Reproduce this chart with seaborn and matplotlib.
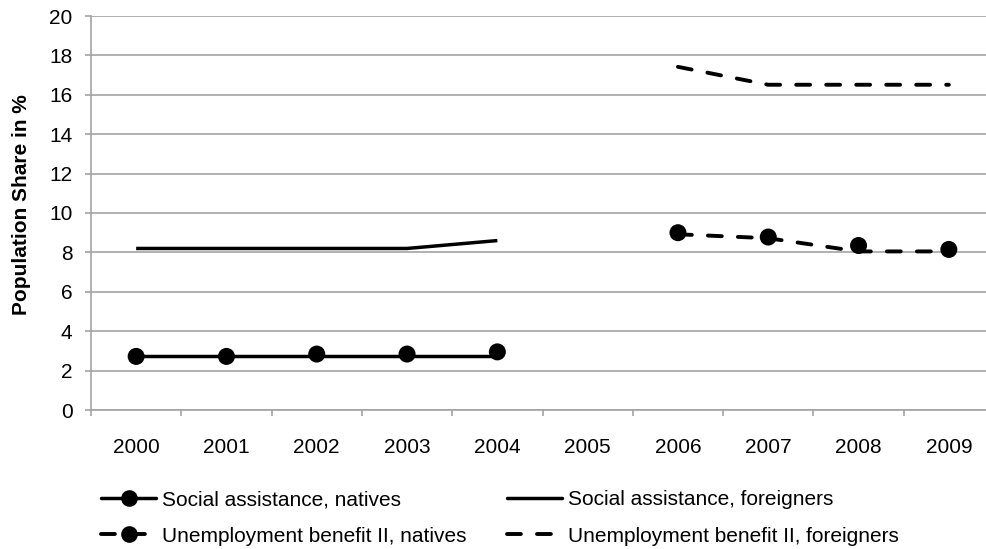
import matplotlib
matplotlib.use("Agg")
import matplotlib.pyplot as plt
from matplotlib.lines import Line2D
from matplotlib.ticker import FixedLocator
import seaborn as sns
import pandas as pd

# Categories
years = ["2000", "2001", "2002", "2003", "2004", "2005", "2006", "2007", "2008", "2009"]

# Social assistance (2000-2004)
sa_years = ["2000", "2001", "2002", "2003", "2004"]
sa_natives_line = [2.74, 2.74, 2.74, 2.74, 2.74]
sa_natives_points = [2.72, 2.72, 2.84, 2.84, 2.95]
sa_foreigners = [8.2, 8.2, 8.2, 8.2, 8.6]

# Unemployment benefit II (2006-2009)
ub_years = ["2006", "2007", "2008", "2009"]
ub_natives_line = [8.92, 8.72, 8.05, 8.05]
ub_natives_points = [9.0, 8.78, 8.35, 8.15]
ub_foreigners = [17.42, 16.51, 16.51, 16.51]

y_ticks = [0, 2, 4, 6, 8, 10, 12, 14, 16, 18, 20]

sns.set_theme(style="white")
plt.rcParams["font.family"] = ["Liberation Sans", "DejaVu Sans"]
plt.rcParams["lines.scale_dashes"] = False

GRID = "#a3a3a3"
INK = "#000000"
DASH = (0, (10.0, 11.6))


def pos(labels):
    return [years.index(v) for v in labels]


sa = pd.DataFrame({"x": pos(sa_years), "nat_line": sa_natives_line,
                   "nat_pts": sa_natives_points, "for": sa_foreigners})
ub = pd.DataFrame({"x": pos(ub_years), "nat_line": ub_natives_line,
                   "nat_pts": ub_natives_points, "for": ub_foreigners})

fig = plt.figure(figsize=(9.86, 5.49), dpi=100)
ax = fig.add_axes([91 / 986, 1 - 410 / 549, (994 - 91) / 986, (410 - 16) / 549])

# Social assistance
sns.lineplot(data=sa, x="x", y="nat_line", ax=ax, color=INK, lw=2.5,
             solid_capstyle="butt")
sns.scatterplot(data=sa, x="x", y="nat_pts", ax=ax, color=INK, s=150,
                edgecolor="none", zorder=4)
sns.lineplot(data=sa, x="x", y="for", ax=ax, color=INK, lw=2.5,
             solid_capstyle="butt")

# Unemployment benefit II
sns.lineplot(data=ub, x="x", y="nat_line", ax=ax, color=INK, lw=2.8,
             linestyle=DASH, dash_capstyle="round")
sns.scatterplot(data=ub, x="x", y="nat_pts", ax=ax, color=INK, s=150,
                edgecolor="none", zorder=4)
sns.lineplot(data=ub, x="x", y="for", ax=ax, color=INK, lw=2.8,
             linestyle=DASH, dash_capstyle="round")

ax.set_xlim(-0.5, len(years) - 0.5)
ax.set_ylim(0, 20)
ax.set_xlabel("")
ax.set_ylabel("")

ax.set_xticks(range(len(years)), years)
ax.xaxis.set_minor_locator(FixedLocator([i - 0.5 for i in range(len(years) + 1)]))
ax.set_yticks(y_ticks, [str(v) for v in y_ticks])

ax.tick_params(axis="x", which="major", length=0, pad=20.5, labelsize=15, labelcolor=INK)
ax.tick_params(axis="x", which="minor", length=4, width=1.2, color=GRID, direction="out",
               bottom=True)
ax.tick_params(axis="y", length=4.3, width=1.2, color=GRID, pad=9, labelsize=15,
               labelcolor=INK, left=True)

ax.yaxis.grid(True, color=GRID, lw=1.2)
ax.xaxis.grid(False)
ax.set_axisbelow(True)
for side in ("top", "right"):
    ax.spines[side].set_visible(False)
for side in ("left", "bottom"):
    ax.spines[side].set_color(GRID)
    ax.spines[side].set_linewidth(1.2)

fig.text(22 / 986, 1 - 205 / 549, "Population Share in %", rotation=90,
         ha="center", va="center", fontsize=15, fontweight="bold", color=INK)

handles = [
    Line2D([], [], color=INK, lw=2.5, marker="o", markersize=12, markeredgewidth=0),
    Line2D([], [], color=INK, lw=2.8, linestyle=DASH, dash_capstyle="round",
           marker="o", markersize=12, markeredgewidth=0),
    Line2D([], [], color=INK, lw=2.5),
    Line2D([], [], color=INK, lw=2.8, linestyle=DASH, dash_capstyle="round"),
]
labels = [
    "Social assistance, natives",
    "Unemployment benefit II, natives",
    "Social assistance, foreigners",
    "Unemployment benefit II, foreigners",
]
fig.legend(handles, labels, ncol=2, loc="upper left",
           bbox_to_anchor=(101 / 986, 1 - 490 / 549), frameon=False,
           fontsize=15, handlelength=2.65, handletextpad=0.3, columnspacing=1.9,
           labelspacing=0.85, borderpad=0, borderaxespad=0, labelcolor=INK)

fig.savefig("out.png", dpi=100)
